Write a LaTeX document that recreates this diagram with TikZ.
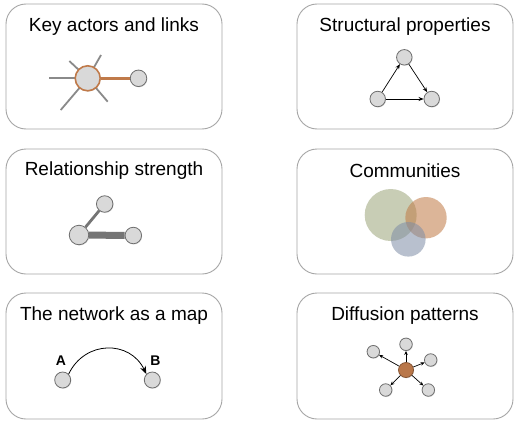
\documentclass[tikz,border=0pt]{standalone}
\usepackage{fontspec}
\setmainfont{Liberation Sans}
\usetikzlibrary{arrows.meta,shadows}
\definecolor{nodefill}{HTML}{D9D9D9}
\definecolor{nodeedge}{HTML}{6E6E6E}
\definecolor{boxedge}{HTML}{A6A6A6}
\definecolor{linkgray}{HTML}{8A8A8A}
\definecolor{rust}{HTML}{C07A4A}
\definecolor{rustfill}{HTML}{B9774A}
\definecolor{olive}{HTML}{9CA57A}
\definecolor{peach}{HTML}{C07A45}
\definecolor{slate}{HTML}{7F8DA6}
\begin{document}
\begin{tikzpicture}[x=1pt,y=-1pt,
  panel/.style={draw=boxedge, line width=0.9pt, rounded corners=20pt, fill=white},
  title/.style={font=\fontsize{19}{22}\selectfont, text=black, inner sep=0pt},
  gnode/.style={circle, draw=nodeedge, fill=nodefill, line width=0.8pt, inner sep=0pt, minimum size=#1,
     drop shadow={shadow xshift=0.6pt, shadow yshift=-0.8pt, opacity=0.25}},
  gnode/.default=16pt,
  spoke/.style={draw=linkgray, line width=1.8pt},
  arr/.style={-{Stealth[length=5pt,width=4pt]}, line width=0.7pt, black},
  sarr/.style={-{Stealth[length=4pt,width=3.5pt]}, line width=0.7pt, black},
  lbl/.style={font=\fontsize{14}{16}\selectfont\bfseries, inner sep=0pt}
]
\useasboundingbox (0,0) rectangle (518,425);
\fill[white] (0,0) rectangle (518,425);

% panels
\draw[panel] (6,4) rectangle (222,129);
\draw[panel] (297,4) rectangle (513,129);
\draw[panel] (6,149) rectangle (222,274);
\draw[panel] (297,149) rectangle (513,274);
\draw[panel] (6,293) rectangle (222,419);
\draw[panel] (297,293) rectangle (513,419);

% titles
\node[title] (t1) at (114,27) {Key actors and links};
\node[title] (t2) at (405,27) {Structural properties};
\node[title] (t3) at (114,171) {Relationship strength};
\node[title] (t4) at (405,171) {Communities};
\node[title] (t5) at (114,316) {The network as a map};
\node[title] (t6) at (405,316) {Diffusion patterns};

% 1: key actors and links
\coordinate (s1) at (49,78.3);
\coordinate (s2) at (69.3,61);
\coordinate (s3) at (101,55);
\coordinate (s4) at (107.7,101.7);
\coordinate (s5) at (60.7,110);
\coordinate (hub) at (87.7,78.3);
\foreach \s in {s1,s2,s3,s4,s5} \draw[spoke] (hub) -- (\s);
\node[gnode=25pt, draw=rust, line width=1.6pt] (k1) at (hub) {};
\node[gnode=16.5pt] (k2) at (138.5,78.3) {};
\draw[draw=rust, line width=2.6pt] (k1) -- (k2);

% 2: structural properties
\node[gnode=15.5pt] (p1) at (404.3,57.3) {};
\node[gnode=15.5pt] (p2) at (377.7,99) {};
\node[gnode=15.5pt] (p3) at (431.7,99) {};
\draw[arr] (p2) -- (p1);
\draw[arr] (p1) -- (p3);
\draw[arr] (p2) -- (p3);

% 3: relationship strength
\node[gnode=19.5pt] (r1) at (79,235) {};
\node[gnode=16.5pt] (r2) at (104.7,204) {};
\node[gnode=16.5pt] (r3) at (133.3,235.5) {};
\draw[draw=linkgray!85!black, line width=2.8pt] (r1) -- (r2);
\draw[draw=linkgray!85!black, line width=7pt] (r1) -- (r3);

% 4: communities
\fill[olive, opacity=0.55] (390.7,215) circle (26);
\fill[peach, opacity=0.55] (426,217.7) circle (20.7);
\fill[slate, opacity=0.55] (408.3,239.3) circle (17.3);
\node[inner sep=0pt] (c1) at (390.7,215) {};

% 5: network as a map
\node[gnode=16pt] (a) at (62.7,380) {};
\node[gnode=16pt] (b) at (152.3,380) {};
\node[lbl] (la) at (61,361) {A};
\node[lbl] (lb) at (155.5,361) {B};
\draw[-{Stealth[length=8pt,width=6pt]}, line width=0.8pt, black] (a.north east) .. controls (85,340) and (130,340) .. (b.north west);

% 6: diffusion patterns
\node[gnode=15pt, fill=rustfill, draw=rust!70!black] (d0) at (406,370) {};
\node[gnode=12.5pt] (d1) at (373.3,351.7) {};
\node[gnode=12.5pt] (d2) at (406,344.3) {};
\node[gnode=12.5pt] (d3) at (430.7,360) {};
\node[gnode=12.5pt] (d4) at (385.7,390) {};
\node[gnode=12.5pt] (d5) at (428.3,390) {};
\foreach \d in {d1,d2,d3,d4,d5} \draw[sarr] (d0) -- (\d);
\end{tikzpicture}
\end{document}
